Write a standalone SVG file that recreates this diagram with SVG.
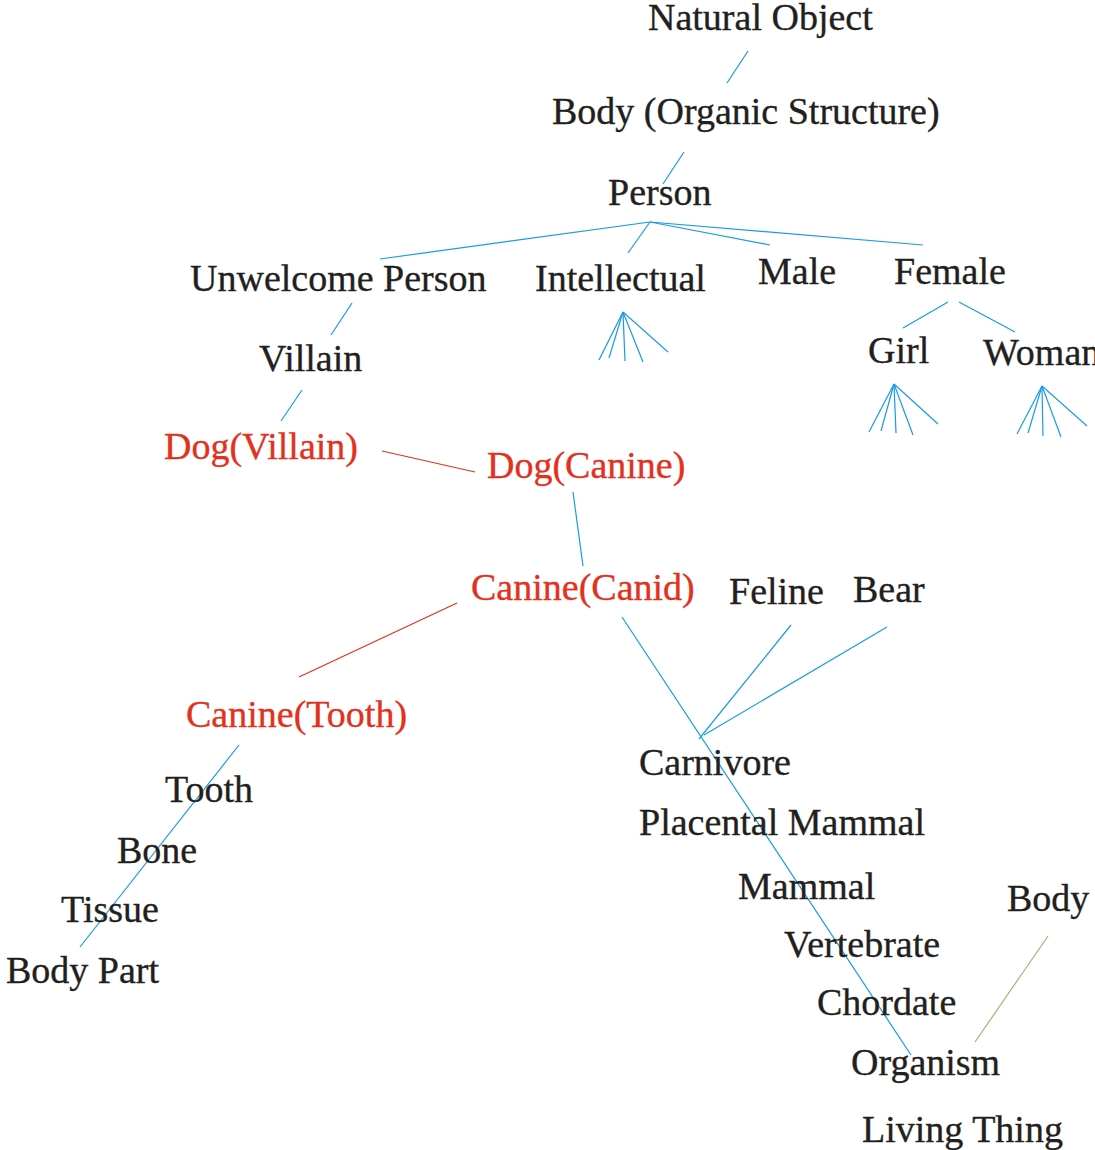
<svg xmlns="http://www.w3.org/2000/svg" width="1095" height="1150" viewBox="0 0 1095 1150">
<style>
text{font-family:"Liberation Serif","Times New Roman",serif;font-size:38px;fill:#231f20;stroke:#231f20;stroke-width:0.35}
text.r{fill:#e2311d;stroke:#e2311d}
line{stroke:#1a9be0;stroke-width:1.2;fill:none}
line.r{stroke:#e2311d}
line.g{stroke:#a3b27a}
</style>
<rect width="1095" height="1150" fill="#fff"/>
<g id="connectors">
<line x1="727" y1="83" x2="748" y2="51"/>
<line x1="663" y1="184" x2="684" y2="152"/>
<line x1="650" y1="222" x2="380" y2="259"/>
<line x1="650" y1="222" x2="628" y2="253"/>
<line x1="650" y1="222" x2="770" y2="245"/>
<line x1="650" y1="222" x2="923" y2="245"/>
<line x1="331" y1="335" x2="352" y2="303"/>
<line x1="623" y1="312" x2="599" y2="360"/>
<line x1="623" y1="312" x2="609" y2="358"/>
<line x1="623" y1="312" x2="625" y2="361"/>
<line x1="623" y1="312" x2="643" y2="362"/>
<line x1="623" y1="312" x2="668" y2="352"/>
<line x1="903" y1="328" x2="948" y2="302"/>
<line x1="959" y1="302" x2="1015" y2="332"/>
<line x1="894" y1="384" x2="869" y2="432"/>
<line x1="894" y1="384" x2="881" y2="431"/>
<line x1="894" y1="384" x2="896" y2="433"/>
<line x1="894" y1="384" x2="913" y2="435"/>
<line x1="894" y1="384" x2="938" y2="424"/>
<line x1="1042" y1="386" x2="1017" y2="434"/>
<line x1="1042" y1="386" x2="1028" y2="433"/>
<line x1="1042" y1="386" x2="1043" y2="436"/>
<line x1="1042" y1="386" x2="1061" y2="437"/>
<line x1="1042" y1="386" x2="1087" y2="426"/>
<line x1="281" y1="421" x2="302" y2="390"/>
<line class="r" x1="382" y1="451" x2="475" y2="472"/>
<line x1="573" y1="492" x2="583" y2="566"/>
<line class="r" x1="457" y1="603" x2="299" y2="677"/>
<line x1="622" y1="617" x2="911" y2="1055"/>
<line x1="791" y1="625" x2="699" y2="739"/>
<line x1="887" y1="627" x2="704" y2="735"/>
<line class="g" x1="975" y1="1042" x2="1048" y2="936"/>
<line x1="239" y1="745" x2="80" y2="947"/>
</g>
<g id="n-natural-object"><text x="648" y="30">Natural Object</text></g>
<g id="n-body-organic"><text x="552" y="124">Body (Organic Structure)</text></g>
<g id="n-person"><text x="608" y="205">Person</text></g>
<g id="n-unwelcome-person"><text x="190" y="291">Unwelcome Person</text></g>
<g id="n-intellectual"><text x="535" y="291">Intellectual</text></g>
<g id="n-male"><text x="758" y="284">Male</text></g>
<g id="n-female"><text x="894" y="284">Female</text></g>
<g id="n-villain"><text x="259" y="371">Villain</text></g>
<g id="n-girl"><text x="868" y="363">Girl</text></g>
<g id="n-woman"><text x="983" y="365">Woman</text></g>
<g id="n-dog-villain"><text class="r" x="164" y="459">Dog(Villain)</text></g>
<g id="n-dog-canine"><text class="r" x="487" y="478">Dog(Canine)</text></g>
<g id="n-canine-canid"><text class="r" x="471" y="600">Canine(Canid)</text></g>
<g id="n-feline"><text x="729" y="604">Feline</text></g>
<g id="n-bear"><text x="853" y="602">Bear</text></g>
<g id="n-canine-tooth"><text class="r" x="186" y="727">Canine(Tooth)</text></g>
<g id="n-tooth"><text x="165" y="802">Tooth</text></g>
<g id="n-bone"><text x="117" y="863">Bone</text></g>
<g id="n-tissue"><text x="61" y="922">Tissue</text></g>
<g id="n-body-part"><text x="6" y="983">Body Part</text></g>
<g id="n-carnivore"><text x="639" y="775">Carnivore</text></g>
<g id="n-placental-mammal"><text x="639" y="835">Placental Mammal</text></g>
<g id="n-mammal"><text x="738" y="899">Mammal</text></g>
<g id="n-vertebrate"><text x="784" y="957">Vertebrate</text></g>
<g id="n-chordate"><text x="817" y="1015">Chordate</text></g>
<g id="n-organism"><text x="851" y="1075">Organism</text></g>
<g id="n-body"><text x="1007" y="911">Body</text></g>
<g id="n-living-thing"><text x="862" y="1142">Living Thing</text></g>
</svg>
